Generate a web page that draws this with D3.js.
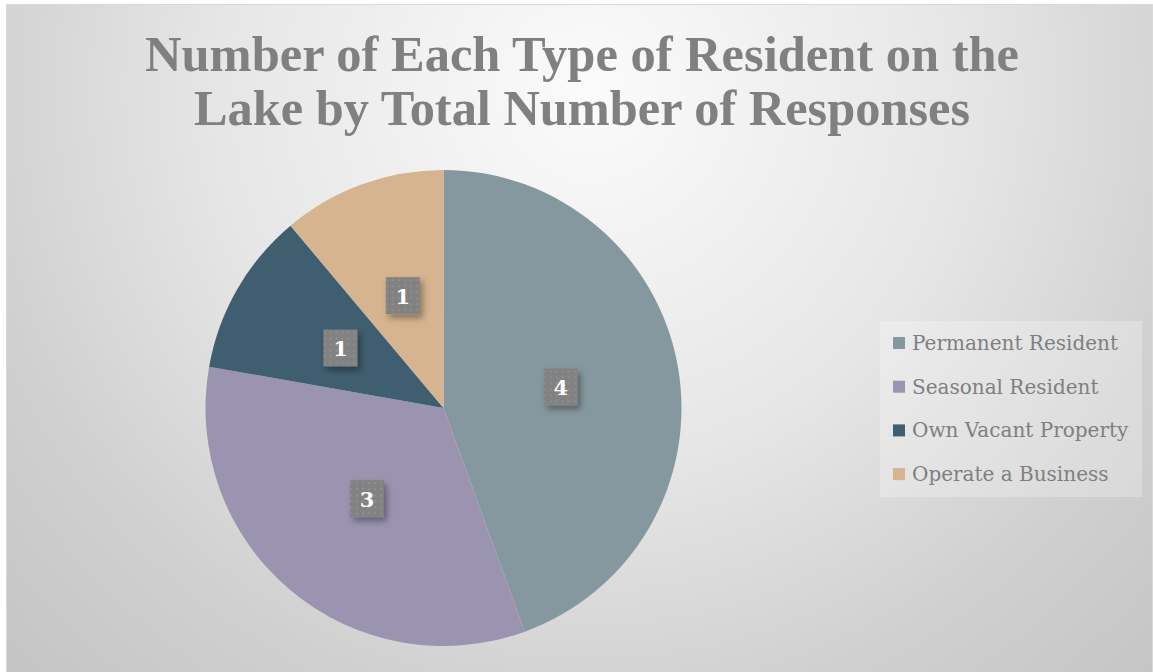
<!DOCTYPE html>
<html>
<head>
<meta charset="utf-8">
<script src="https://cdn.jsdelivr.net/npm/d3@7"></script>
<style>
  html, body { margin: 0; padding: 0; background: #ffffff; }
  svg { display: block; }
</style>
</head>
<body>
<svg id="chart" width="1153" height="672"></svg>
<script>
// chart data
const categories = ["Permanent Resident", "Seasonal Resident", "Own Vacant Property", "Operate a Business"];
const counts = [4, 3, 1, 1];
const colors = ["#86989f", "#9a94b1", "#3f5e70", "#d5b48f"];
const titleLines = ["Number of Each Type of Resident on the", "Lake by Total Number of Responses"];

const svg = d3.select("#chart");
const defs = svg.append("defs");

// background: soft radial grey
const bg = defs.append("radialGradient")
    .attr("id", "bgGrad")
    .attr("gradientUnits", "userSpaceOnUse")
    .attr("cx", 590).attr("cy", 90).attr("r", 830);
bg.append("stop").attr("offset", 0).attr("stop-color", "#fbfbfb");
bg.append("stop").attr("offset", 0.45).attr("stop-color", "#e6e6e6");
bg.append("stop").attr("offset", 0.75).attr("stop-color", "#d0d0d0");
bg.append("stop").attr("offset", 1).attr("stop-color", "#c4c4c4");

// dotted fill for the data label boxes
const pat = defs.append("pattern")
    .attr("id", "dots")
    .attr("patternUnits", "userSpaceOnUse")
    .attr("width", 6).attr("height", 6);
pat.append("rect").attr("width", 6).attr("height", 6).attr("fill", "#828282");
pat.append("rect").attr("x", 1).attr("y", 1).attr("width", 2).attr("height", 2).attr("fill", "#8e8e8e");

const shadow = defs.append("filter").attr("id", "shadow")
    .attr("x", "-50%").attr("y", "-50%").attr("width", "200%").attr("height", "200%");
shadow.append("feDropShadow")
    .attr("dx", 3).attr("dy", 4).attr("stdDeviation", 3)
    .attr("flood-color", "#000").attr("flood-opacity", 0.35);

svg.append("rect")
    .attr("x", 6.5).attr("y", 4.5)
    .attr("width", 1146).attr("height", 670)
    .attr("fill", "url(#bgGrad)")
    .attr("stroke", "#d9d9d9");

// title
const title = svg.append("g");
title.selectAll("text")
    .data(titleLines)
    .join("text")
    .attr("x", 582)
    .attr("y", (d, i) => 71 + i * 54)
    .attr("text-anchor", "middle")
    .attr("font-family", "'Liberation Serif', serif")
    .attr("font-weight", "bold")
    .attr("font-size", 50)
    .attr("fill", "#808080")
    .attr("textLength", (d, i) => i === 0 ? 874 : 776)
    .attr("lengthAdjust", "spacingAndGlyphs")
    .text(d => d);

// pie
const cx = 443.5, cy = 408, radius = 238;
const pie = d3.pie().sort(null).value(d => d);
const arcs = pie(counts);
const arc = d3.arc().innerRadius(0).outerRadius(radius);
const labelArc = d3.arc().innerRadius(radius * 0.5).outerRadius(radius * 0.5);

const g = svg.append("g").attr("transform", `translate(${cx},${cy})`);
g.selectAll("path")
    .data(arcs)
    .join("path")
    .attr("d", arc)
    .attr("fill", (d, i) => colors[i]);

// data labels
const labels = g.selectAll("g.lbl")
    .data(arcs)
    .join("g")
    .attr("class", "lbl")
    .attr("transform", d => {
        const [x, y] = labelArc.centroid(d);
        return `translate(${x},${y})`;
    });
labels.append("rect")
    .attr("x", -17).attr("y", -19)
    .attr("width", 34).attr("height", 37)
    .attr("fill", "url(#dots)")
    .attr("filter", "url(#shadow)");
labels.append("text")
    .attr("text-anchor", "middle")
    .attr("dy", "0.35em")
    .attr("font-family", "'DejaVu Serif', serif")
    .attr("font-weight", "bold")
    .attr("font-size", 21)
    .attr("fill", "#ffffff")
    .text(d => d.data);

// legend
const legend = svg.append("g");
legend.append("rect")
    .attr("x", 880).attr("y", 321)
    .attr("width", 262).attr("height", 176)
    .attr("fill", "#ffffff").attr("fill-opacity", 0.25);
const rows = legend.selectAll("g.row")
    .data(categories)
    .join("g")
    .attr("class", "row")
    .attr("transform", (d, i) => `translate(893,${343 + i * 43.7})`);
rows.append("rect")
    .attr("x", 0).attr("y", -6)
    .attr("width", 12).attr("height", 12)
    .attr("fill", (d, i) => colors[i]);
rows.append("text")
    .attr("x", 19)
    .attr("dy", "0.35em")
    .attr("font-family", "'DejaVu Serif', serif")
    .attr("font-size", 20)
    .attr("fill", "#7f7f7f")
    .text(d => d);
</script>
</body>
</html>
